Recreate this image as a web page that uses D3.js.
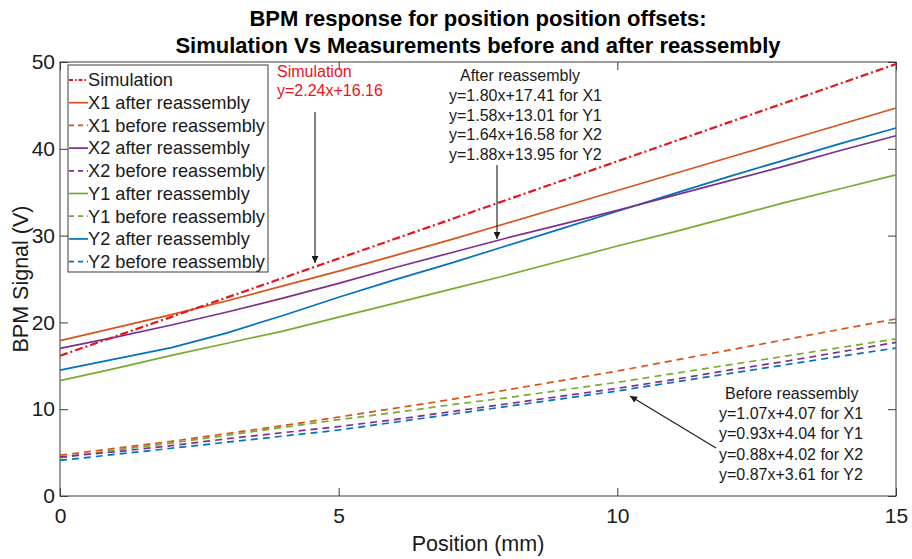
<!DOCTYPE html>
<html>
<head>
<meta charset="utf-8">
<script src="https://cdn.jsdelivr.net/npm/d3@7"></script>
<style>
  html, body { margin: 0; padding: 0; background: #ffffff; }
  svg { display: block; font-family: "Liberation Sans", Arial, Helvetica, sans-serif; }
</style>
</head>
<body>
<svg id="chart" width="912" height="559"></svg>
<script>
// Position offsets (mm)
const positions = [0, 1, 2, 3, 4, 5, 6, 7, 8, 9, 10, 11, 12, 13, 14, 15];

// BPM signal (V) per position
const simulation = [16.16, 18.40, 20.64, 22.88, 25.12, 27.36, 29.60, 31.84, 34.08, 36.32, 38.56, 40.80, 43.04, 45.28, 47.52, 49.76];
const x1After  = [17.9, 19.4, 20.9, 22.5, 24.2, 25.9, 27.7, 29.5, 31.4, 33.3, 35.2, 37.1, 39.0, 40.9, 42.8, 44.7];
const x1Before = [4.7, 5.5, 6.3, 7.2, 8.1, 9.1, 10.1, 11.1, 12.2, 13.3, 14.4, 15.6, 16.8, 18.0, 19.2, 20.4];
const x2After  = [17.0, 18.3, 19.7, 21.2, 22.8, 24.5, 26.3, 28.0, 29.7, 31.3, 32.9, 34.6, 36.3, 38.0, 39.8, 41.5];
const x2Before = [4.5, 5.1, 5.8, 6.6, 7.3, 8.0, 8.8, 9.7, 10.6, 11.5, 12.4, 13.4, 14.5, 15.5, 16.6, 17.7];
const y1After  = [13.3, 14.7, 16.2, 17.6, 19.0, 20.6, 22.2, 23.8, 25.4, 27.1, 28.8, 30.4, 32.1, 33.8, 35.4, 37.0];
const y1Before = [4.4, 5.3, 6.1, 7.0, 7.9, 8.8, 9.6, 10.5, 11.3, 12.2, 13.1, 14.1, 15.1, 16.1, 17.1, 18.1];
const y2After  = [14.5, 15.8, 17.1, 18.8, 20.8, 22.9, 24.9, 26.8, 28.8, 30.8, 32.8, 34.8, 36.8, 38.7, 40.6, 42.4];
const y2Before = [4.1, 4.8, 5.5, 6.2, 6.9, 7.6, 8.5, 9.4, 10.3, 11.2, 12.1, 13.1, 14.1, 15.1, 16.1, 17.05];

// Axis ticks
const xTicks = [0, 5, 10, 15];
const yTicks = [0, 10, 20, 30, 40, 50];

// Text blocks
const titleLines = ["BPM response for position position offsets:", "Simulation Vs Measurements before and after reassembly"];
const simNote = ["Simulation", "y=2.24x+16.16"];
const afterNote = ["After reassembly", "y=1.80x+17.41 for X1", "y=1.58x+13.01 for Y1", "y=1.64x+16.58 for X2", "y=1.88x+13.95 for Y2"];
const beforeNote = ["Before reassembly", "y=1.07x+4.07 for X1", "y=0.93x+4.04 for Y1", "y=0.88x+4.02 for X2", "y=0.87x+3.61 for Y2"];

// Series in legend order, with their drawing style
const series = [
  { name: "Simulation",           values: simulation, color: "#e8141b", dash: "8,3,2,3", width: 2.2 },
  { name: "X1 after reassembly",  values: x1After,    color: "#d95319", dash: null,      width: 1.7 },
  { name: "X1 before reassembly", values: x1Before,   color: "#d95319", dash: "7,5",     width: 1.7 },
  { name: "X2 after reassembly",  values: x2After,    color: "#7e2f8e", dash: null,      width: 1.7 },
  { name: "X2 before reassembly", values: x2Before,   color: "#7e2f8e", dash: "7,5",     width: 1.7 },
  { name: "Y1 after reassembly",  values: y1After,    color: "#77ac30", dash: null,      width: 1.7 },
  { name: "Y1 before reassembly", values: y1Before,   color: "#77ac30", dash: "7,5",     width: 1.7 },
  { name: "Y2 after reassembly",  values: y2After,    color: "#0072bd", dash: null,      width: 1.7 },
  { name: "Y2 before reassembly", values: y2Before,   color: "#0072bd", dash: "7,5",     width: 1.7 }
];

const svg = d3.select("#chart");
const plotL = 60, plotR = 896, plotT = 62, plotB = 496;
const axisColor = "#3a3a3a";

const x = d3.scaleLinear().domain([0, 15]).range([plotL, plotR]);
const y = d3.scaleLinear().domain([0, 50]).range([plotB, plotT]);

// Plot frame
svg.append("rect")
  .attr("x", plotL).attr("y", plotT)
  .attr("width", plotR - plotL).attr("height", plotB - plotT)
  .attr("fill", "#ffffff").attr("stroke", axisColor).attr("stroke-width", 1);

// Axes with inward ticks on all four sides
function styleAxis(g) {
  g.select(".domain").remove();
  g.selectAll(".tick line").attr("stroke", axisColor);
  g.selectAll(".tick text").attr("fill", "#1a1a1a").style("font-size", "21px")
    .style("font-family", "'Liberation Sans', Arial, sans-serif");
}
svg.append("g").attr("transform", `translate(0,${plotB})`)
  .call(d3.axisBottom(x).tickValues(xTicks).tickFormat(d3.format("d")).tickSizeInner(-8).tickSizeOuter(0).tickPadding(12))
  .call(styleAxis);
svg.append("g").attr("transform", `translate(${plotL},0)`)
  .call(d3.axisLeft(y).tickValues(yTicks).tickFormat(d3.format("d")).tickSizeInner(-8).tickSizeOuter(0).tickPadding(5))
  .call(styleAxis);
svg.append("g").attr("transform", `translate(0,${plotT})`)
  .call(d3.axisTop(x).tickValues(xTicks).tickFormat("").tickSizeInner(-8).tickSizeOuter(0))
  .call(styleAxis);
svg.append("g").attr("transform", `translate(${plotR},0)`)
  .call(d3.axisRight(y).tickValues(yTicks).tickFormat("").tickSizeInner(-8).tickSizeOuter(0))
  .call(styleAxis);

// Data lines
const line = d3.line()
  .x((d, i) => x(positions[i]))
  .y(d => y(d));

const plot = svg.append("g");
series.slice().reverse().forEach(s => {
  plot.append("path")
    .datum(s.values)
    .attr("d", line)
    .attr("fill", "none")
    .attr("stroke", s.color)
    .attr("stroke-width", s.width)
    .attr("stroke-dasharray", s.dash)
    .attr("stroke-linejoin", "round");
});

// Title
svg.append("g").selectAll("text")
  .data(titleLines)
  .join("text")
  .attr("x", (plotL + plotR) / 2)
  .attr("y", (d, i) => 26 + i * 27)
  .attr("text-anchor", "middle")
  .style("font-size", "22px")
  .style("font-weight", "bold")
  .attr("fill", "#000")
  .text(d => d);

// Axis labels
svg.append("text")
  .attr("x", (plotL + plotR) / 2).attr("y", 551)
  .attr("text-anchor", "middle")
  .style("font-size", "21.5px").attr("fill", "#1a1a1a")
  .text("Position (mm)");
svg.append("text")
  .attr("transform", `translate(28,${(plotT + plotB) / 2}) rotate(-90)`)
  .attr("text-anchor", "middle")
  .style("font-size", "21.5px").attr("fill", "#1a1a1a")
  .text("BPM Signal (V)");

// Legend
const legend = svg.append("g");
const lgX = 68, lgY = 65, lgW = 200, lgH = 207, rowH = 22.7;
legend.append("rect")
  .attr("x", lgX).attr("y", lgY).attr("width", lgW).attr("height", lgH)
  .attr("fill", "#ffffff").attr("stroke", axisColor).attr("stroke-width", 1);
series.forEach((s, i) => {
  const cy = lgY + 15 + i * rowH;
  legend.append("line")
    .attr("x1", lgX + 1).attr("x2", lgX + 20)
    .attr("y1", cy).attr("y2", cy)
    .attr("stroke", s.color).attr("stroke-width", s.width)
    .attr("stroke-dasharray", s.dash ? (s.name === "Simulation" ? "4,2,1.5,2" : "5,4") : null);
  legend.append("text")
    .attr("x", lgX + 20).attr("y", cy + 6.3)
    .style("font-size", "18.2px").attr("fill", "#1a1a1a")
    .text(s.name);
});

// Annotations
function noteBlock(lines, xPos, yFirst, step, color, firstX) {
  const g = svg.append("g");
  lines.forEach((t, i) => {
    g.append("text")
      .attr("x", i === 0 && firstX !== undefined ? firstX : xPos)
      .attr("y", yFirst + i * step)
      .style("font-size", "16px")
      .attr("fill", color)
      .text(t);
  });
}
noteBlock(simNote, 277, 77, 19, "#e8141b");
noteBlock(afterNote, 449, 81, 19.8, "#1a1a1a", 460);
noteBlock(beforeNote, 719, 399, 20.2, "#1a1a1a", 725);

// Arrows
const defs = svg.append("defs");
defs.append("marker")
  .attr("id", "head")
  .attr("viewBox", "0 0 10 10")
  .attr("refX", 10).attr("refY", 5)
  .attr("markerWidth", 9).attr("markerHeight", 7)
  .attr("markerUnits", "userSpaceOnUse")
  .attr("orient", "auto")
  .append("path").attr("d", "M0,0 L10,5 L0,10 Z").attr("fill", "#1a1a1a");

const arrows = [
  [315, 112, 315, 263],
  [497, 165, 497, 239],
  [716, 448, 630, 396]
];
svg.append("g").selectAll("line")
  .data(arrows)
  .join("line")
  .attr("x1", d => d[0]).attr("y1", d => d[1])
  .attr("x2", d => d[2]).attr("y2", d => d[3])
  .attr("stroke", "#1a1a1a").attr("stroke-width", 1.1)
  .attr("marker-end", "url(#head)");
</script>
</body>
</html>
